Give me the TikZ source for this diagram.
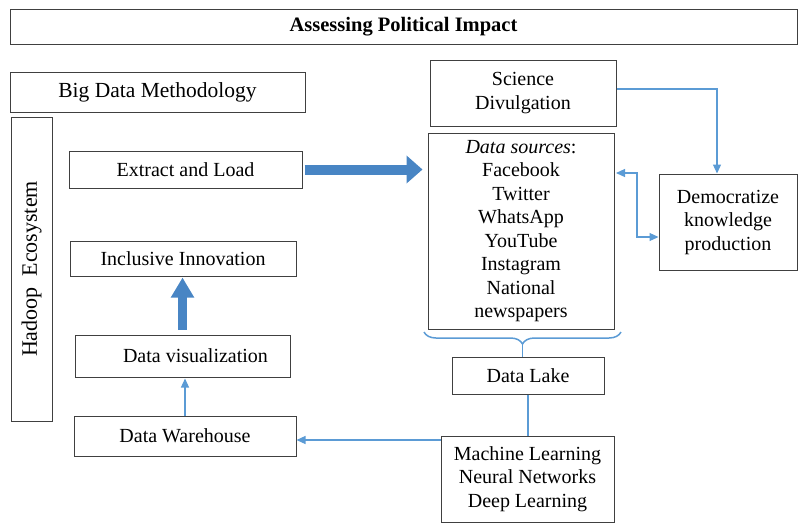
\documentclass[tikz,border=0pt]{standalone}
\usepackage{fontspec}
\setmainfont{Liberation Serif}
\usetikzlibrary{arrows.meta,calc,decorations.pathreplacing}
\definecolor{linkblue}{RGB}{91,155,213}
\definecolor{fatblue}{RGB}{72,133,196}
\definecolor{boxgray}{RGB}{64,64,64}

\begin{document}
\begin{tikzpicture}[x=1pt,y=-1pt,
  box/.style={draw=boxgray, line width=1pt, inner sep=2pt, align=center,
    font=\fontsize{20}{23.5}\selectfont},
  link/.style={draw=linkblue, line width=1.2pt, -{Triangle[length=9pt,width=8pt]}},
  fatarrow/.style={draw=fatblue, line width=10pt, -{Triangle[length=16pt,width=27pt]}},
  brace/.style={draw=linkblue, line width=1.5pt, decorate,
    decoration={brace, amplitude=12pt, aspect=0.5}}]
  \useasboundingbox (0,0) rectangle (799,523);

  \node[box, minimum width=787pt, minimum height=35pt,
    font=\fontsize{20.5}{23}\selectfont\bfseries] (title) at (403.5,26.5) {Assessing Political Impact};
  \node[box, minimum width=295pt, minimum height=40pt,
    font=\fontsize{21.5}{24}\selectfont] (bdm) at (157.5,92) {Big Data Methodology};
  \node[box, minimum width=304pt, minimum height=41pt, rotate=90,
    font=\fontsize{22}{24}\selectfont] (hadoop) at (31.5,269) {Hadoop\ \ Ecosystem};

  \node[box, minimum width=233pt, minimum height=37pt] (extract) at (185.5,169.5) {Extract and Load};
  \node[box, minimum width=226pt, minimum height=35pt] (innov) at (183,258.5) {Inclusive Innovation};
  \node[box, minimum width=215pt, minimum height=42pt] (viz) at (182.5,356) {\hspace*{26pt}Data visualization};
  \node[box, minimum width=222pt, minimum height=40pt] (ware) at (185,436) {Data Warehouse};

  \node[box, minimum width=186pt, minimum height=66pt] (sci) at (523,93) {Science\\Divulgation};
  \node[box, minimum width=186pt, minimum height=196pt] (sources) at (521,231)
    {\textit{Data sources}:\\Facebook\\Twitter\\WhatsApp\\YouTube\\Instagram\\National\\newspapers};
  \node[box, minimum width=138pt, minimum height=96pt] (demo) at (728,222) {Democratize\\knowledge\\production};
  \node[box, minimum width=152pt, minimum height=37pt] (lake) at (528,375.5) {Data Lake};
  \node[box, minimum width=173pt, minimum height=86pt] (ml) at (527.5,479)
    {Machine Learning\\Neural Networks\\Deep Learning};

  \coordinate (bl) at (424,332);
  \coordinate (br) at (621,332);
  \coordinate (tip) at (522.5,344);
  \coordinate (dsr) at (616,173);
  \coordinate (wa) at ($(ware.east)+(0,4)$);

  \draw[fatarrow, shorten <=2pt, shorten >=5pt] (extract.east) -- (extract.east -| sources.west);
  \draw[fatarrow, line width=9pt, -{Triangle[length=20pt,width=22pt]}, shorten <=5pt, shorten >=1pt] (viz.north) -- (viz.north |- innov.south);

  \draw[link, shorten >=1pt] (ware.north) -- (ware.north |- viz.south);
  \draw[link] (ml.west |- wa) -- (wa);
  \draw[link, -] (lake.south) -- (lake.south |- ml.north);
  \draw[brace] (br) -- (bl);
  \draw[link, -] (tip) -- (tip |- lake.north);

  \draw[link] ($(sci.east)+(0,-4)$) -| ($(demo.north)+(-11,0)$);
  \draw[link, {Triangle[length=9pt,width=8pt]}-{Triangle[length=9pt,width=8pt]}] (dsr) -- ++(21,0) |- ($(demo.west)+(0,15)$);

\end{tikzpicture}
\end{document}
